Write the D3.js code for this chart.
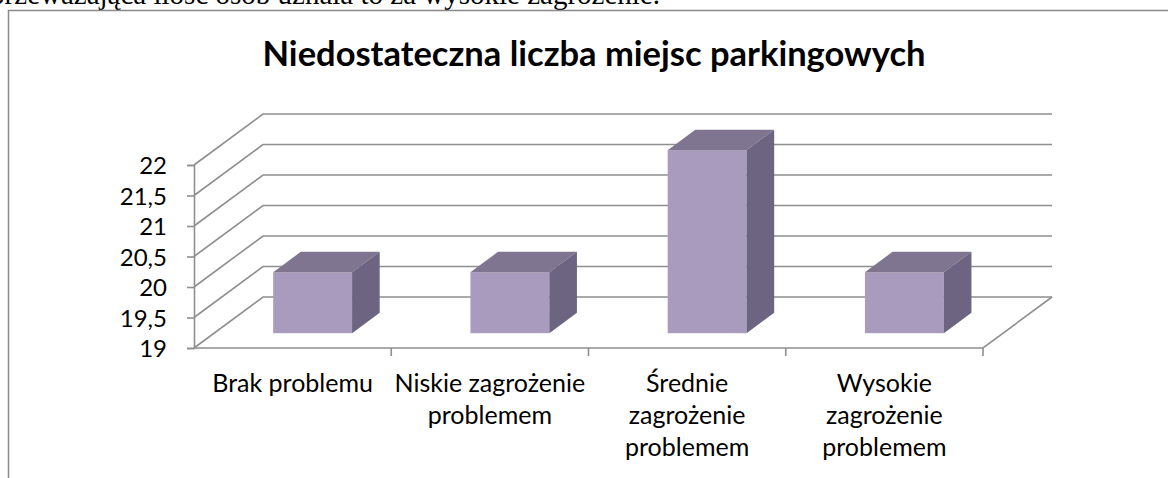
<!DOCTYPE html>
<html>
<head>
<meta charset="utf-8">
<script src="https://cdn.jsdelivr.net/npm/d3@7"></script>
<style>
  html, body { margin: 0; padding: 0; background: #fff; }
  svg { display: block; }
</style>
</head>
<body>
<div id="chart"></div>
<script>
const W = 1168;
const H = 478;

// data
const categories = [
  ['Brak problemu'],
  ['Niskie zagrożenie', 'problemem'],
  ['Średnie', 'zagrożenie', 'problemem'],
  ['Wysokie', 'zagrożenie', 'problemem']
];
const values = [20, 20, 22, 20];
const yTicks = [19, 19.5, 20, 20.5, 21, 21.5, 22];
const title = 'Niedostateczna liczba miejsc parkingowych';
const pageText = 'przeważająca ilość osób uznała to za wysokie zagrożenie.';

// front plane of the 3D box and the depth offset
const PLOT = { left: 194, right: 983, top: 165, bottom: 348 };
const DEPTH = { dx: 69, dy: -51 };
const BAR_FRONT = 0.29;   // where the bar front sits along the depth
const BAR_DEPTH = 0.40;
const BAR_WIDTH = 0.40;   // share of band

const GRID_COLOR = '#8f8f8f';
const FRONT_COLOR = '#a99bbd';
const TOP_COLOR = '#7f7591';
const SIDE_COLOR = '#6c6480';
const FONT = 'Lato, "Open Sans", sans-serif';

const svg = d3.select('#chart').append('svg')
  .attr('width', W)
  .attr('height', H);

// piece of text from the page above the chart, cut off by the frame
svg.append('text')
  .attr('x', 660)
  .attr('y', 4)
  .attr('text-anchor', 'end')
  .style('font-family', '"Liberation Serif", "Times New Roman", serif')
  .style('font-size', '29px')
  .style('fill', '#000')
  .text(pageText);

// chart frame
svg.append('rect')
  .attr('x', 8.5)
  .attr('y', 10.5)
  .attr('width', W + 20)
  .attr('height', H + 20)
  .attr('fill', '#fff')
  .attr('stroke', '#8a8a8a')
  .attr('stroke-width', 1.5);

svg.append('text')
  .attr('x', 594)
  .attr('y', 66)
  .attr('text-anchor', 'middle')
  .style('font-family', FONT)
  .style('font-weight', 'bold')
  .style('font-size', '34.5px')
  .style('fill', '#000')
  .text(title);

const y = d3.scaleLinear()
  .domain([d3.min(yTicks), d3.max(yTicks)])
  .range([PLOT.bottom, PLOT.top]);

const x = d3.scaleBand()
  .domain(d3.range(categories.length))
  .range([PLOT.left, PLOT.right]);

const grid = svg.append('g')
  .attr('fill', 'none')
  .attr('stroke', GRID_COLOR)
  .attr('stroke-width', 1.6);

// side wall diagonals + back wall gridlines
yTicks.forEach(v => {
  grid.append('polyline')
    .attr('points', [
      [PLOT.left, y(v)],
      [PLOT.left + DEPTH.dx, y(v) + DEPTH.dy],
      [PLOT.right + DEPTH.dx, y(v) + DEPTH.dy]
    ].map(p => p.join(',')).join(' '));
});

// floor front edge and right edge
grid.append('polyline')
  .attr('points', [
    [PLOT.left, PLOT.bottom],
    [PLOT.right, PLOT.bottom],
    [PLOT.right + DEPTH.dx, PLOT.bottom + DEPTH.dy]
  ].map(p => p.join(',')).join(' '));

// value axis
const yAxis = d3.axisLeft(y)
  .tickValues(yTicks)
  .tickSize(7)
  .tickPadding(20)
  .tickFormat(d => String(d).replace('.', ','));

const yG = svg.append('g')
  .attr('transform', `translate(${PLOT.left},0)`)
  .call(yAxis);
yG.select('.domain').attr('stroke', GRID_COLOR).attr('stroke-width', 1.6);
yG.selectAll('.tick line').attr('stroke', GRID_COLOR).attr('stroke-width', 1.6);
yG.selectAll('.tick text')
  .style('font-family', FONT)
  .style('font-size', '24px')
  .attr('fill', '#000')
  .attr('dy', '0.36em');

// category tick marks at band edges
const edges = d3.range(1, categories.length + 1).map(i => x.step() * i + PLOT.left);
svg.append('g')
  .selectAll('line')
  .data(edges)
  .join('line')
  .attr('x1', d => d).attr('x2', d => d)
  .attr('y1', PLOT.bottom).attr('y2', PLOT.bottom + 8)
  .attr('stroke', GRID_COLOR)
  .attr('stroke-width', 1.6);

// category labels
const labels = svg.append('g')
  .style('font-family', FONT)
  .style('font-size', '25px')
  .attr('fill', '#000')
  .attr('text-anchor', 'middle');

categories.forEach((lines, i) => {
  const t = labels.append('text')
    .attr('x', x(i) + x.bandwidth() / 2)
    .attr('y', 392);
  lines.forEach((line, j) => {
    t.append('tspan')
      .attr('x', x(i) + x.bandwidth() / 2)
      .attr('dy', j === 0 ? 0 : 32)
      .text(line);
  });
});

// 3D bars
const bw = x.bandwidth() * BAR_WIDTH;
const fdx = DEPTH.dx * BAR_FRONT, fdy = DEPTH.dy * BAR_FRONT;
const ddx = DEPTH.dx * BAR_DEPTH, ddy = DEPTH.dy * BAR_DEPTH;

const bars = svg.append('g')
  .selectAll('g')
  .data(values)
  .join('g');

bars.each(function (v, i) {
  const g = d3.select(this);
  const x0 = x(i) + (x.bandwidth() - bw) / 2 + fdx;
  const x1 = x0 + bw;
  const yb = y(d3.min(yTicks)) + fdy;
  const yt = y(v) + fdy;

  g.append('rect')
    .attr('x', x0).attr('y', yt)
    .attr('width', bw).attr('height', yb - yt)
    .attr('fill', FRONT_COLOR);

  g.append('polygon')
    .attr('points', [[x0, yt], [x0 + ddx, yt + ddy], [x1 + ddx, yt + ddy], [x1, yt]]
      .map(p => p.join(',')).join(' '))
    .attr('fill', TOP_COLOR);

  g.append('polygon')
    .attr('points', [[x1, yt], [x1 + ddx, yt + ddy], [x1 + ddx, yb + ddy], [x1, yb]]
      .map(p => p.join(',')).join(' '))
    .attr('fill', SIDE_COLOR);
});
</script>
</body>
</html>
